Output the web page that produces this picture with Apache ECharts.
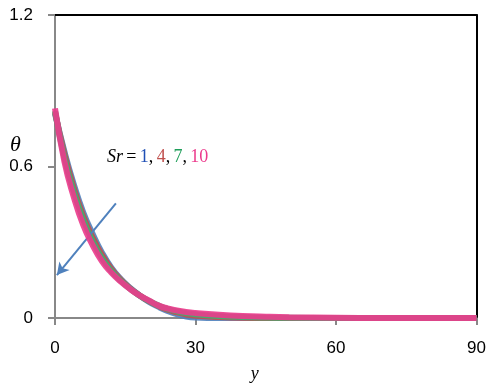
<!DOCTYPE html>
<html><head><meta charset="utf-8">
<script src="https://cdn.jsdelivr.net/npm/echarts@6/dist/echarts.min.js"></script>
<style>html,body{margin:0;padding:0;background:#fff}#c{width:489px;height:388px}</style>
</head><body><div id="c"></div>
<script>
var xs = [0,2,4,6,8,10,12,14,16,18,20,22,24,26,28,30,35,40,45,50,60,70,80,90];
var sr1  = [0.81,0.66,0.53,0.42,0.335,0.26,0.20,0.155,0.12,0.09,0.065,0.045,0.028,0.015,0.006,0.002,0,0,0,0,0,0,0,0];
var sr4  = [0.815,0.65,0.515,0.405,0.32,0.25,0.195,0.152,0.118,0.09,0.067,0.048,0.033,0.022,0.014,0.009,0.004,0.001,0,0,0,0,0,0];
var sr7  = [0.82,0.635,0.50,0.39,0.305,0.237,0.187,0.148,0.116,0.09,0.068,0.05,0.036,0.027,0.02,0.015,0.008,0.004,0.002,0.001,0,0,0,0];
var sr10 = [0.83,0.62,0.48,0.37,0.29,0.225,0.18,0.145,0.115,0.09,0.07,0.05,0.038,0.03,0.024,0.02,0.013,0.008,0.005,0.003,0.001,0,0,0];
var xTicks = [0,30,60,90];
var yTicks = [0,0.6,1.2];
var arrow = [[13.0,0.454],[0.4,0.17]];

function pts(a){return xs.map(function(x,i){return [x,a[i]];});}
var chart = echarts.init(document.getElementById('c'));
var lab = {fontFamily:'Liberation Sans',fontSize:17,color:'#000'};
function line(name,data,color,z){
  return {name:name,type:'line',data:pts(data),smooth:true,symbol:'none',z:z,
    lineStyle:{color:color,width:6,opacity:0.9}};
}
var s = [
  line('Sr=1',sr1,'#4f81bd',2),
  line('Sr=4',sr4,'#c0504d',3),
  line('Sr=7',sr7,'#3cb371',4),
  line('Sr=10',sr10,'#ec3a8c',5)
];
s[0].markLine = {silent:true,symbol:['none','arrow'],symbolSize:[10,12],label:{show:false},
  lineStyle:{color:'#4f81bd',width:2,type:'solid'},data:[[{coord:arrow[0]},{coord:arrow[1]}]]};
chart.setOption({
  animation:false,
  grid:{left:55,right:12,top:15,bottom:64},
  xAxis:[{type:'value',min:0,max:90,interval:30,
    name:'y',nameLocation:'middle',nameGap:47,
    nameTextStyle:{fontFamily:'Liberation Serif',fontStyle:'italic',fontSize:18,color:'#000',padding:[0,22,0,0]},
    axisLine:{onZero:false,lineStyle:{color:'#888',width:2}},
    axisTick:{show:true,length:7,lineStyle:{color:'#888',width:2}},
    axisLabel:Object.assign({margin:22,formatter:function(v){return xTicks.indexOf(v)>=0?String(v):'';}},lab),
    splitLine:{show:false}},
    {type:'value',position:'top',min:0,max:90,axisLine:{show:true,onZero:false,lineStyle:{color:'#000',width:2}},
     axisTick:{show:false},axisLabel:{show:false},splitLine:{show:false}}],
  yAxis:[{type:'value',min:0,max:1.2,interval:0.6,
    axisLine:{show:true,onZero:false,lineStyle:{color:'#888',width:2}},
    axisTick:{show:true,length:7,lineStyle:{color:'#888',width:2}},
    axisLabel:Object.assign({margin:22,formatter:function(v){return yTicks.indexOf(v)>=0?(v===0?'0':v.toFixed(1)):'';}},lab),
    splitLine:{show:false}},
    {type:'value',position:'right',min:0,max:1.2,axisLine:{show:true,onZero:false,lineStyle:{color:'#000',width:2}},
     axisTick:{show:false},axisLabel:{show:false},splitLine:{show:false}}],
  graphic:[
    {type:'text',left:10,top:134,style:{text:'θ',font:'italic 22px "Liberation Serif"',fill:'#000'}},
    {type:'text',left:107,top:148,style:{
      text:'{s|Sr} {e|=} {a|1}{e|,} {b|4}{e|,} {c|7}{e|,} {d|10}',
      rich:{
        s:{fontFamily:'Liberation Serif',fontStyle:'italic',fontSize:18,fill:'#000'},
        e:{fontFamily:'Liberation Serif',fontSize:18,fill:'#000'},
        a:{fontFamily:'Liberation Serif',fontSize:18,fill:'#1f4fb5'},
        b:{fontFamily:'Liberation Serif',fontSize:18,fill:'#c0504d'},
        c:{fontFamily:'Liberation Serif',fontSize:18,fill:'#1f9e5a'},
        d:{fontFamily:'Liberation Serif',fontSize:18,fill:'#ec3a8c'}
      }}}
  ],
  series:s
});
</script></body></html>
